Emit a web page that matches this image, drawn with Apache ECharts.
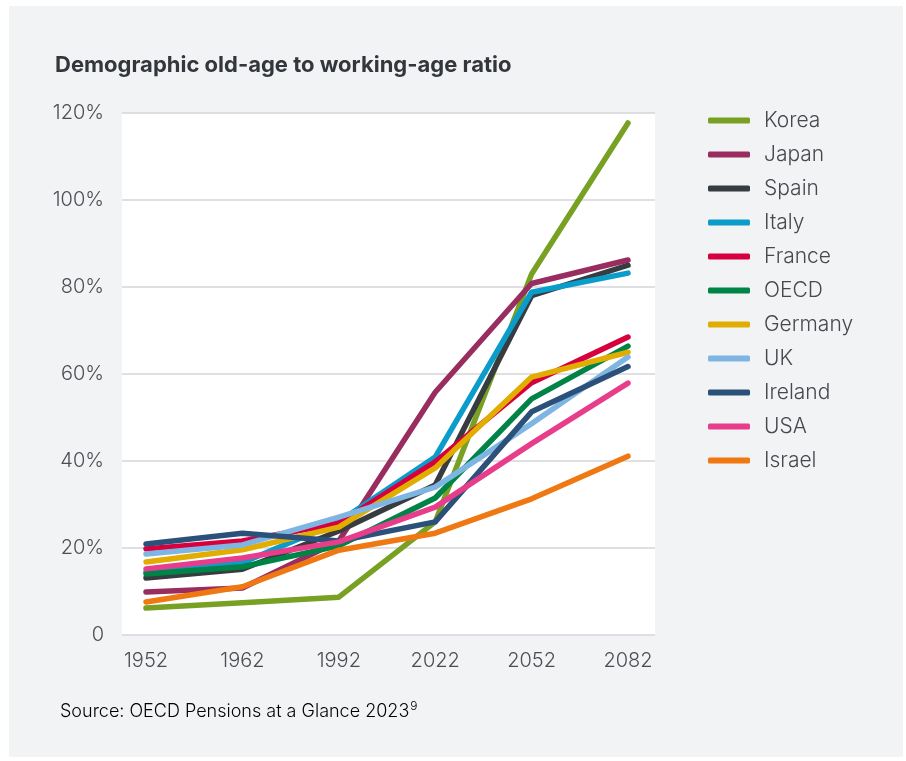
<!DOCTYPE html>
<html>
<head>
<meta charset="utf-8">
<script src="https://cdn.jsdelivr.net/npm/echarts@6/dist/echarts.min.js"></script>
<style>
  html, body { margin: 0; padding: 0; background: #ffffff; }
  #wrap { position: relative; width: 906px; height: 761px; overflow: hidden; background: #ffffff; }
  #panel { position: absolute; left: 9px; top: 6px; width: 894px; height: 751px; background: #f2f3f5; }
  #chart { position: absolute; left: 0; top: 0; width: 906px; height: 761px; }
</style>
</head>
<body>
<div id="wrap"><div id="panel"></div><div id="chart"></div></div>
<script>
// ---- data ----
const years = ['1952', '1962', '1992', '2022', '2052', '2082'];
const countries = ['Korea', 'Japan', 'Spain', 'Italy', 'France', 'OECD', 'Germany', 'UK', 'Ireland', 'USA', 'Israel'];
const korea   = [6.2, 7.4, 8.7, 26.0, 83.0, 117.7];
const japan   = [9.9, 10.8, 21.6, 55.8, 80.8, 86.2];
const spain   = [13.1, 15.1, 23.9, 34.5, 78.0, 85.0];
const italy   = [14.5, 16.6, 26.0, 40.9, 78.8, 83.2];
const france  = [19.8, 21.6, 25.7, 39.8, 58.0, 68.5];
const oecd    = [14.0, 15.7, 20.5, 31.5, 54.3, 66.4];
const germany = [16.8, 19.6, 24.8, 38.4, 59.3, 65.0];
const uk      = [18.6, 20.7, 27.1, 34.0, 48.6, 63.9];
const ireland = [20.9, 23.4, 21.6, 26.0, 51.3, 61.7];
const usa     = [15.2, 17.7, 21.4, 29.4, 44.0, 57.9];
const israel  = [7.6, 11.1, 19.5, 23.4, 31.3, 41.1];
const yTicks = [0, 20, 40, 60, 80, 100, 120];

const seriesValues = [korea, japan, spain, italy, france, oecd, germany, uk, ireland, usa, israel];
const colors = ['#78a022', '#992d60', '#373c41', '#0a9cca', '#d6003e', '#008347', '#e0ad00', '#7fb5e3', '#2b5079', '#e83d8b', '#ef7812'];

const FONT = 'Inter, "Noto Sans", sans-serif';

const chart = echarts.init(document.getElementById('chart'), null, { renderer: 'canvas' });

const series = countries.map((name, i) => ({
  name: name,
  type: 'line',
  xAxisIndex: 1,
  yAxisIndex: 1,
  data: seriesValues[i],
  symbol: 'none',
  smooth: false,
  color: colors[i],
  lineStyle: { width: 5.5, color: colors[i], cap: 'round', join: 'round' },
  emphasis: { disabled: true },
  animation: false
}));

chart.setOption({
  backgroundColor: 'transparent',
  animation: false,
  title: {
    text: 'Demographic old-age to working-age ratio',
    left: 50,
    top: 49,
    textStyle: { fontFamily: FONT, fontSize: 22, fontWeight: 'bold', color: '#33373b' }
  },
  legend: {
    orient: 'vertical',
    left: 703,
    top: 105,
    itemWidth: 42,
    itemHeight: 6,
    itemGap: 13,
    icon: 'roundRect',
    data: countries,
    textStyle: { fontFamily: FONT, fontSize: 21, fontWeight: 300, color: '#45494d', lineHeight: 21, padding: [0, 0, 0, 9] }
  },
  grid: [
    { left: 122, right: 251, top: 113, bottom: 126, show: true, backgroundColor: '#ffffff', borderWidth: 0 },
    { left: 146, right: 278, top: 113, bottom: 126 }
  ],
  xAxis: [
    { type: 'category', gridIndex: 0, data: years, show: false },
    {
      type: 'category', gridIndex: 1, data: years, boundaryGap: false,
      axisLine: { show: false }, axisTick: { show: false },
      axisLabel: { margin: 16, fontFamily: FONT, fontSize: 20, fontWeight: 300, color: '#4a4e52' }
    }
  ],
  yAxis: [
    {
      type: 'value', gridIndex: 0, min: yTicks[0], max: yTicks[yTicks.length - 1], interval: 20,
      axisLine: { show: false }, axisTick: { show: false },
      axisLabel: { margin: 18, fontFamily: FONT, fontSize: 20, fontWeight: 300, color: '#4a4e52',
        formatter: v => v === 0 ? '0' : v + '%' },
      splitLine: { show: true, lineStyle: { color: '#d3d6da', width: 1.5 } }
    },
    { type: 'value', gridIndex: 1, min: 0, max: 120, interval: 20, show: false, splitLine: { show: false } }
  ],
  graphic: [
    {
      type: 'text', left: 60, top: 700,
      style: {
        text: '{a|Source: OECD Pensions at a Glance 2023}{s|9}',
        rich: {
          a: { fontFamily: FONT, fontSize: 18, fontWeight: 300, color: '#55595d', verticalAlign: 'bottom' },
          s: { fontFamily: FONT, fontSize: 12, fontWeight: 300, color: '#55595d', verticalAlign: 'top', padding: [0, 0, 9, 1] }
        }
      }
    }
  ],
  series: series
});
</script>
</body>
</html>
